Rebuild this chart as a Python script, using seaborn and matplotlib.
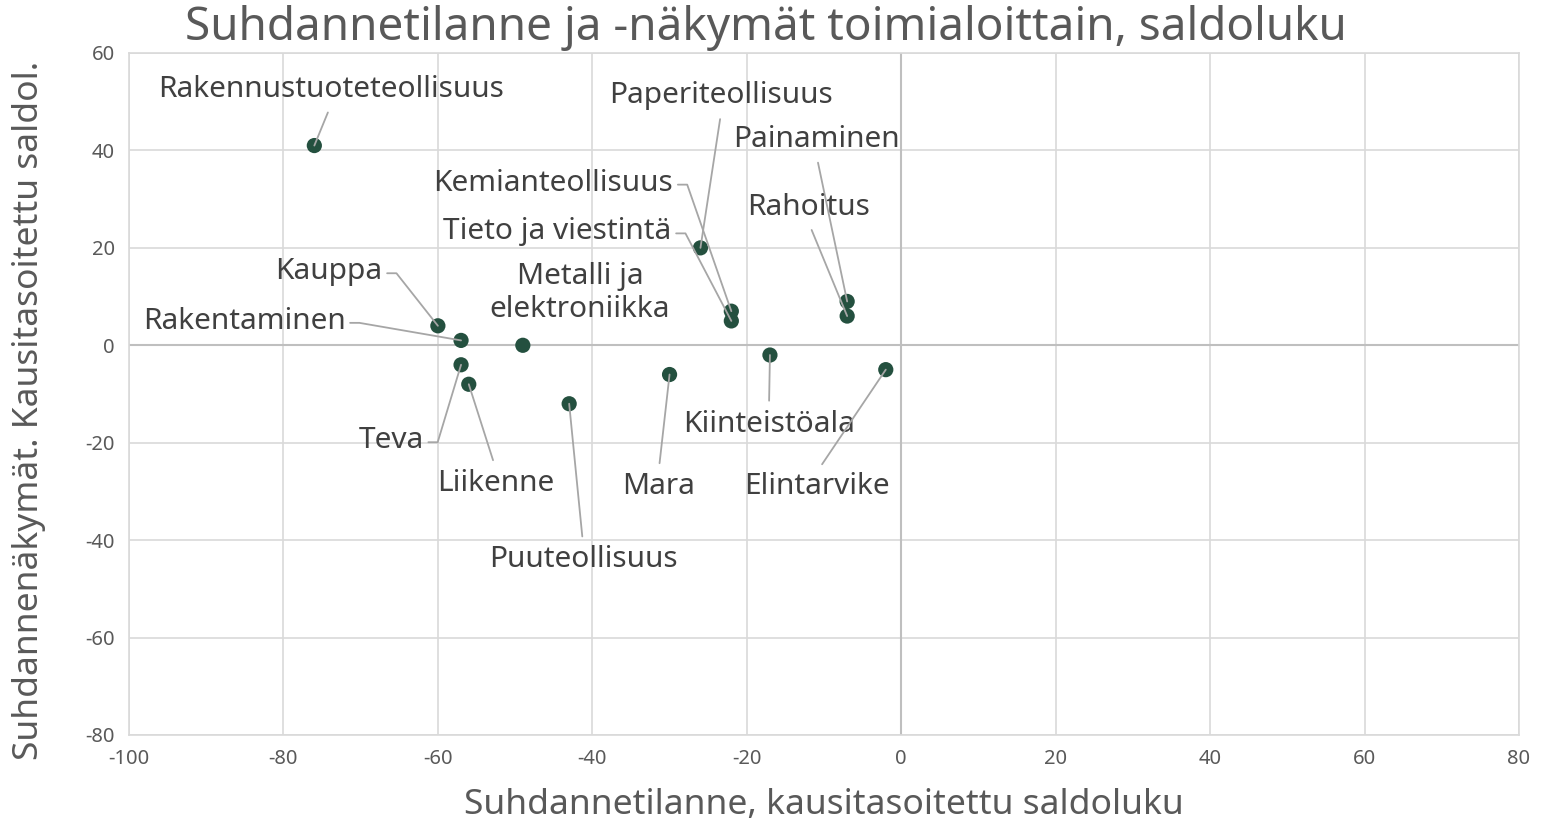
import numpy as np
import matplotlib
matplotlib.use("Agg")
import matplotlib.pyplot as plt
import pandas as pd
import seaborn as sns

# data
toimiala = ['Rakennustuoteteollisuus', 'Paperiteollisuus', 'Painaminen', 'Kemianteollisuus',
            'Rahoitus', 'Tieto ja viestintä', 'Kauppa', 'Metalli ja\nelektroniikka',
            'Rakentaminen', 'Teva', 'Liikenne', 'Puuteollisuus', 'Mara',
            'Kiinteistöala', 'Elintarvike']
tilanne = [-76, -26, -7, -22, -7, -22, -60, -49, -57, -57, -56, -43, -30, -17, -2]
nakymat = [41, 20, 9, 7, 6, 5, 4, 0, 1, -4, -8, -12, -6, -2, -5]

xticks = list(range(-100, 81, 20))
yticks = list(range(-80, 61, 20))

df = pd.DataFrame({'toimiala': toimiala, 'tilanne': tilanne, 'nakymat': nakymat})

# label placement: offset in pixels from the point (dx, dy up), and leader style
label_off = {
    'Rakennustuoteteollisuus': (17, 56, 'below'),
    'Paperiteollisuus': (21, 152, 'below'),
    'Painaminen': (-31, 162, 'below'),
    'Kemianteollisuus': (-178, 128, 'side'),
    'Rahoitus': (-39, 109, 'below'),
    'Tieto ja viestintä': (-174, 89, 'side'),
    'Kauppa': (-109, 54, 'side'),
    'Metalli ja\nelektroniikka': (57, 52, None),
    'Rakentaminen': (-217, 19, 'side'),
    'Teva': (-70, -76, 'side'),
    'Liikenne': (27, -99, 'above'),
    'Puuteollisuus': (14, -156, 'above'),
    'Mara': (-11, -112, 'above'),
    'Kiinteistöala': (-1, -69, 'above'),
    'Elintarvike': (-69, -117, 'above'),
}

sns.set_style('white')
plt.rcParams['font.family'] = ['Noto Sans', 'DejaVu Sans']

fig = plt.figure(figsize=(15.61, 8.36), dpi=100)
ax = fig.add_axes([129/1561, 1-735/836, 1390/1561, 682/836])

sns.scatterplot(data=df, x='tilanne', y='nakymat', ax=ax, s=120,
                color='#24503f', edgecolor='none', zorder=5, legend=False)

ax.set_xlim(-100, 80)
ax.set_ylim(-80, 60)
ax.set_xticks(xticks)
ax.set_yticks(yticks)
ax.set_xticklabels([str(t) for t in xticks])
ax.set_yticklabels([str(t) for t in yticks])
ax.grid(True, color='#d9d9d9', lw=1.2)
ax.set_axisbelow(True)
ax.axhline(0, color='#bfbfbf', lw=1.5, zorder=1)
ax.axvline(0, color='#bfbfbf', lw=1.5, zorder=1)
for sp in ax.spines.values():
    sp.set_color('#d9d9d9')
    sp.set_linewidth(1.2)
ax.tick_params(length=0, labelsize=14.5, labelcolor='#595959', pad=10)

ax.set_xlabel('Suhdannetilanne, kausitasoitettu saldoluku', fontsize=25.5,
              color='#595959', labelpad=14)
ax.set_ylabel('Suhdannenäkymät. Kausitasoitettu saldol.', fontsize=25.5,
              color='#595959')
ax.yaxis.set_label_coords(-0.06, 0.4765)
fig.text(766/1561, 1-28/836, 'Suhdannetilanne ja -näkymät toimialoittain, saldoluku',
         fontsize=33, color='#595959', ha='center', va='center')

for name, x, y in zip(df['toimiala'], df['tilanne'], df['nakymat']):
    dx, dy, kind = label_off[name]
    if kind is None:
        arrow = None
    elif kind == 'side':
        arrow = dict(arrowstyle='-', color='#a6a6a6', lw=1.3, shrinkA=1, shrinkB=0,
                     relpos=(1, 0.45),
                     connectionstyle='arc,angleA=0,angleB=0,armA=14,armB=0,rad=0')
    else:
        rel = (0.5, 0) if kind == 'below' else (0.5, 1)
        arrow = dict(arrowstyle='-', color='#a6a6a6', lw=1.3, shrinkA=4, shrinkB=0,
                     relpos=rel)
    ax.annotate(name, (x, y), xytext=(dx*0.72, dy*0.72), textcoords='offset points',
                ha='center', va='center', fontsize=21.5, color='#404040',
                linespacing=1.2, arrowprops=arrow, zorder=6)

fig.savefig('out.png', dpi=100)
